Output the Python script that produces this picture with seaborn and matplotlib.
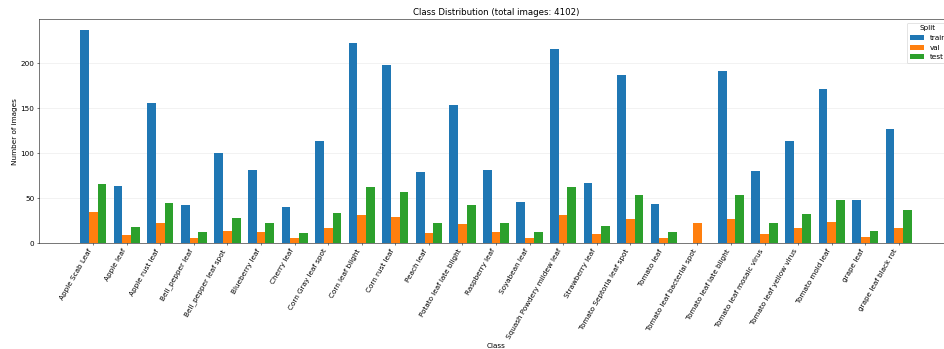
import pandas as pd
import numpy as np
import matplotlib
matplotlib.use("Agg")
import matplotlib.pyplot as plt
import seaborn as sns

# ============================================
# DATA
# ============================================

classes = [
    "Apple Scab Leaf", "Apple leaf", "Apple rust leaf", "Bell_pepper leaf",
    "Bell_pepper leaf spot", "Blueberry leaf", "Cherry leaf", "Corn Gray leaf spot",
    "Corn leaf blight", "Corn rust leaf", "Peach leaf", "Potato leaf late blight",
    "Raspberry leaf", "Soyabean leaf", "Squash Powdery mildew leaf", "Strawberry leaf",
    "Tomato Septoria leaf spot", "Tomato leaf", "Tomato leaf bacterial spot",
    "Tomato leaf late blight", "Tomato leaf mosaic virus", "Tomato leaf yellow virus",
    "Tomato mold leaf", "grape leaf", "grape leaf black rot",
]

train_counts = [237, 64, 156, 43, 100, 81, 40, 114, 222, 198, 79, 153, 81,
                46, 216, 67, 187, 44, 0, 191, 80, 113, 171, 48, 127]
val_counts = [35, 9, 23, 6, 14, 12, 6, 17, 31, 29, 11, 21, 12,
              6, 31, 10, 27, 6, 22, 27, 10, 17, 24, 7, 17]
test_counts = [66, 18, 45, 12, 28, 23, 11, 34, 63, 57, 22, 43, 23,
               13, 62, 19, 54, 12, 0, 54, 23, 33, 48, 14, 37]

splits = ["train", "val", "test"]
split_colors = ["#1f77b4", "#ff7f0e", "#2ca02c"]

# long format table for seaborn
rows = []
for split, counts in zip(splits, [train_counts, val_counts, test_counts]):
    for c, n in zip(classes, counts):
        rows.append({"Class": c, "Split": split, "count": n})
df = pd.DataFrame(rows)

total = int(df["count"].sum())

# ============================================
# PLOT
# ============================================

plt.rcParams["font.size"] = 11

dpi = 47.2
fig = plt.figure(figsize=(944 / dpi, 349 / dpi), dpi=dpi)
ax = fig.add_axes([39 / 944, 1 - 243.3 / 349, (953 - 39) / 944, (243.3 - 19) / 349])

sns.barplot(
    data=df,
    x="Class",
    y="count",
    hue="Split",
    hue_order=splits,
    palette=split_colors,
    saturation=1,
    order=classes,
    width=0.78,
    ax=ax,
)

ax.set_xlim(-1.615, 25.615)
ax.set_title(f"Class Distribution (total images: {total})")
ax.set_xlabel("Class")
ax.set_ylabel("Number of images")
ax.grid(axis="y", alpha=0.3)
ax.set_axisbelow(True)
plt.setp(ax.get_xticklabels(), rotation=60, ha="right")

ax.legend(title="Split", loc="upper right")

fig.savefig("out.png", dpi=dpi)
